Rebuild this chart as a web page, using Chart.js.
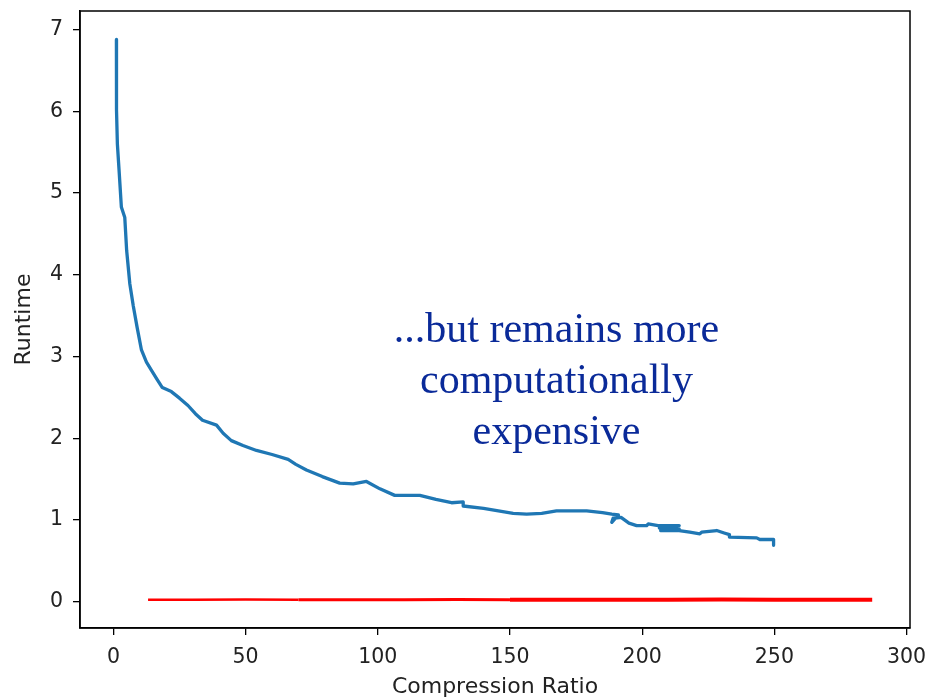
<!DOCTYPE html>
<html>
<head>
<meta charset="utf-8">
<script src="https://cdn.jsdelivr.net/npm/chart.js@4/dist/chart.umd.min.js"></script>
<style>
  html, body { margin: 0; padding: 0; background: #fff; }
  #wrap { width: 929px; height: 700px; }
</style>
</head>
<body>
<div id="wrap"><canvas id="c" width="929" height="700"></canvas></div>
<script>
// ---- data ----
const blueX = [1.13, 1.13, 1.2, 1.5, 2.1, 3.0, 4.3, 5.0, 6.2, 7.5, 9.0, 10.6, 12.5, 14.4, 16.5, 18.5, 21.9, 25, 28.2, 31, 33.7, 39.0, 41.5, 44.6, 49, 54.1, 60, 66.1, 69, 73.0, 79, 85.6, 90.7, 95.7, 100.8, 106.4, 115.9, 122, 127.9, 132.3, 132.3, 140, 151.2, 156.3, 162, 167.6, 179, 185, 188.5, 191, 188.5, 189, 192, 195, 197.9, 201.7, 202.3, 206, 214, 206.5, 214, 207, 214, 218, 221.8, 222.5, 228.2, 231, 233, 233, 243.3, 244.5, 249.7, 249.7];
const blueY = [6.88, 6.30, 6.02, 5.60, 5.30, 4.83, 4.70, 4.30, 3.89, 3.62, 3.35, 3.08, 2.93, 2.83, 2.72, 2.62, 2.57, 2.49, 2.40, 2.30, 2.22, 2.16, 2.06, 1.97, 1.91, 1.85, 1.80, 1.74, 1.68, 1.61, 1.53, 1.45, 1.44, 1.47, 1.38, 1.30, 1.30, 1.25, 1.21, 1.22, 1.17, 1.14, 1.08, 1.07, 1.08, 1.11, 1.11, 1.09, 1.07, 1.06, 0.97, 1.02, 1.03, 0.96, 0.93, 0.93, 0.95, 0.93, 0.93, 0.90, 0.89, 0.87, 0.87, 0.85, 0.83, 0.85, 0.87, 0.84, 0.82, 0.79, 0.78, 0.76, 0.76, 0.69];
const redX = [13.1, 30, 50, 70, 90, 110, 130, 150, 170, 190, 210, 230, 250, 270, 287.0];
const redY = [0.024, 0.024, 0.025, 0.024, 0.023, 0.024, 0.025, 0.024, 0.023, 0.024, 0.024, 0.025, 0.024, 0.023, 0.024];
const xTicks = [0, 50, 100, 150, 200, 250, 300];
const yTicks = [0, 1, 2, 3, 4, 5, 6, 7];
const xTitle = 'Compression Ratio';
const yTitle = 'Runtime';
const noteLines = ['...but remains more', 'computationally', 'expensive'];
const noteAnchor = [167.6, 3.177];

// ---- chart ----
const blueData = blueX.map((x, i) => ({ x: x, y: blueY[i] }));
const redData = redX.map((x, i) => ({ x: x, y: redY[i] }));

const frame = {
  id: 'frame',
  afterDraw(chart) {
    const a = chart.chartArea, ctx = chart.ctx;
    ctx.save();
    ctx.strokeStyle = '#000';
    ctx.lineWidth = 1.5;
    ctx.strokeRect(a.left, a.top, a.right - a.left, a.bottom - a.top);
    ctx.restore();
  }
};

const note = {
  id: 'note',
  afterDatasetsDraw(chart) {
    const ctx = chart.ctx;
    const px = chart.scales.x.getPixelForValue(noteAnchor[0]);
    const py = chart.scales.y.getPixelForValue(noteAnchor[1]);
    ctx.save();
    ctx.font = '42px "Liberation Serif", "Times New Roman", serif';
    ctx.fillStyle = '#0a2a99';
    ctx.textAlign = 'center';
    ctx.textBaseline = 'alphabetic';
    noteLines.forEach((t, i) => ctx.fillText(t, px, py + i * 51.2));
    ctx.restore();
  }
};

const tickFont = { family: '"DejaVu Sans", sans-serif', size: 20.5 };
const titleFont = { family: '"DejaVu Sans", sans-serif', size: 22 };

new Chart(document.getElementById('c'), {
  type: 'line',
  data: {
    datasets: [
      { data: redData, borderColor: '#ff0000', borderWidth: 2.5, pointRadius: 0, tension: 0,
        segment: { borderWidth: ctx => ctx.p0.parsed.x >= 150 ? 4 : (ctx.p0.parsed.x >= 60 ? 3 : 2.5) } },
      { data: blueData, borderColor: '#1f77b4', borderWidth: 3.3, pointRadius: 0, tension: 0,
        borderJoinStyle: 'round', borderCapStyle: 'butt' }
    ]
  },
  options: {
    responsive: false,
    animation: false,
    devicePixelRatio: 1,
    layout: { padding: { top: 11, right: 19, left: 0, bottom: 0 } },
    plugins: { legend: { display: false }, tooltip: { enabled: false } },
    scales: {
      x: {
        type: 'linear', min: -12.64, max: 301.3,
        afterFit: s => { s.height = 72; s.paddingLeft = 0; s.paddingRight = 0; },
        afterBuildTicks: s => { s.ticks = xTicks.map(v => ({ value: v })); },
        grid: { drawOnChartArea: false, drawTicks: true, tickLength: 7, color: '#000', lineWidth: 1.3 },
        border: { display: true, color: '#000', width: 1.5 },
        ticks: { font: tickFont, color: '#222', padding: 10, maxRotation: 0, autoSkip: false },
        title: { display: true, text: xTitle, font: titleFont, color: '#222', padding: { top: 0, bottom: 0 } }
      },
      y: {
        type: 'linear', min: -0.323, max: 7.228,
        afterFit: s => { s.width = 80; s.paddingTop = 0; s.paddingBottom = 0; },
        afterBuildTicks: s => { s.ticks = yTicks.map(v => ({ value: v })); },
        grid: { drawOnChartArea: false, drawTicks: true, tickLength: 7, color: '#000', lineWidth: 1.3 },
        border: { display: true, color: '#000', width: 1.5 },
        ticks: { font: tickFont, color: '#222', padding: 10, autoSkip: false },
        title: { display: true, text: yTitle, font: titleFont, color: '#222', padding: { top: 11, bottom: 0 } }
      }
    }
  },
  plugins: [frame, note]
});
</script>
</body>
</html>
